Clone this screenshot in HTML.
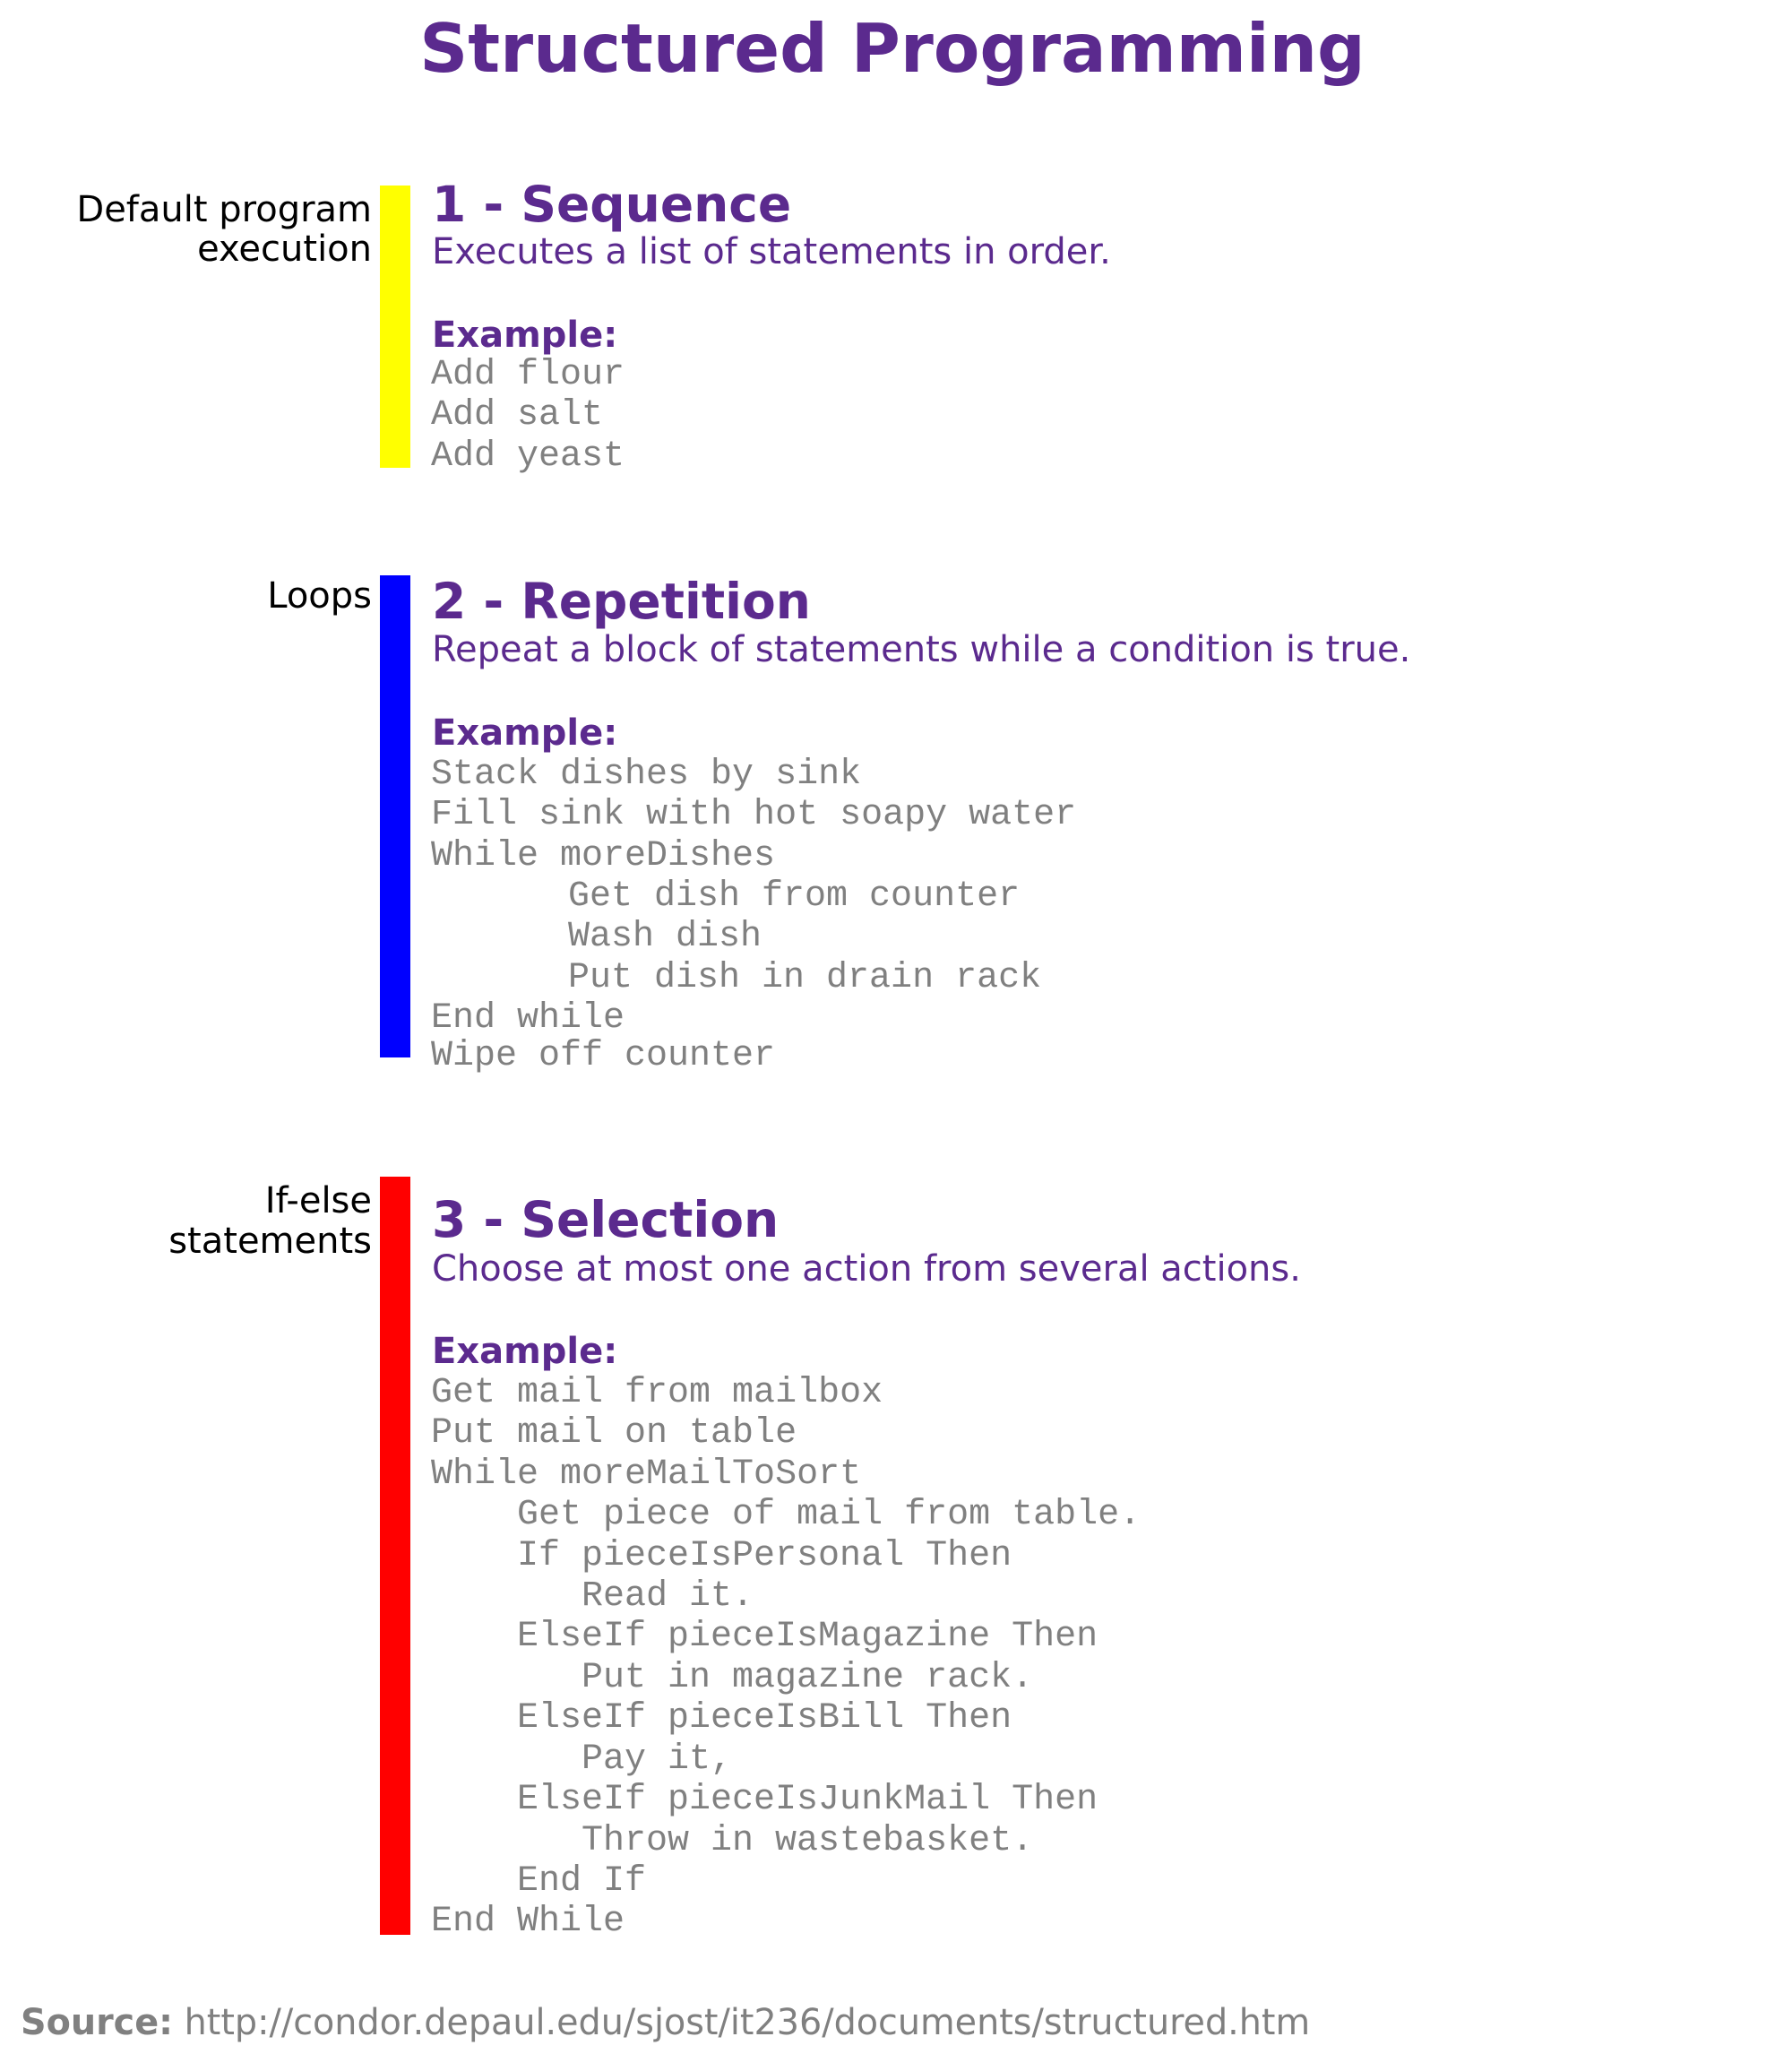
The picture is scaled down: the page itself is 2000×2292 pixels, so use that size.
<!DOCTYPE html>
<html><head><meta charset="utf-8"><style>
html,body{margin:0;padding:0;background:#fff}
svg{display:block}
.lbl{font-family:"DejaVu Sans","Liberation Sans",sans-serif;font-size:40px;fill:#000;text-anchor:end}
.h{font-family:"DejaVu Sans","Liberation Sans",sans-serif;font-weight:bold;font-size:55px;fill:#5b2a8e}
.d{font-family:"DejaVu Sans","Liberation Sans",sans-serif;font-size:40px;fill:#5b2a8e}
.ex{font-family:"DejaVu Sans","Liberation Sans",sans-serif;font-weight:bold;font-size:40px;fill:#5b2a8e}
.c{font-family:"Liberation Mono",monospace;font-size:40px;fill:#808080;white-space:pre}
</style></head><body>
<svg width="2000" height="2292" viewBox="0 0 2000 2292" xmlns="http://www.w3.org/2000/svg">
<text x="996" y="80" text-anchor="middle" font-family="DejaVu Sans, Liberation Sans, sans-serif" font-weight="bold" font-size="75" fill="#5b2a8e">Structured Programming</text>

<g>
<rect x="424" y="207" width="34" height="315" fill="#ffff00"/>
<text class="lbl" x="415" y="247"><tspan x="415">Default program</tspan><tspan x="415" y="291">execution</tspan></text>
<text class="h" x="482" y="247">1 - Sequence</text>
<text class="d" x="482" y="294">Executes a list of statements in order.</text>
<text class="ex" x="482" y="387">Example:</text>
<text class="c" x="481" y="428"><tspan x="481" y="428">Add flour</tspan><tspan x="481" y="473">Add salt</tspan><tspan x="481" y="519">Add yeast</tspan></text>
</g>

<g>
<rect x="424" y="642" width="34" height="538" fill="#0000ff"/>
<text class="lbl" x="415" y="678">Loops</text>
<text class="h" x="482" y="690">2 - Repetition</text>
<text class="d" x="482" y="738">Repeat a block of statements while a condition is true.</text>
<text class="ex" x="482" y="831">Example:</text>
<text class="c">
<tspan x="481" y="874">Stack dishes by sink</tspan>
<tspan x="481" y="919">Fill sink with hot soapy water</tspan>
<tspan x="481" y="965">While moreDishes</tspan>
<tspan x="634" y="1010">Get dish from counter</tspan>
<tspan x="634" y="1055">Wash dish</tspan>
<tspan x="634" y="1101">Put dish in drain rack</tspan>
<tspan x="481" y="1146">End while</tspan>
<tspan x="481" y="1188">Wipe off counter</tspan>
</text>
</g>

<g>
<rect x="424" y="1313" width="34" height="846" fill="#ff0000"/>
<text class="lbl" x="415" y="1353"><tspan x="415">If-else</tspan><tspan x="415" y="1398">statements</tspan></text>
<text class="h" x="482" y="1380">3 - Selection</text>
<text class="d" x="482" y="1429">Choose at most one action from several actions.</text>
<text class="ex" x="482" y="1521">Example:</text>
<text class="c">
<tspan x="481" y="1564">Get mail from mailbox</tspan>
<tspan x="481" y="1609">Put mail on table</tspan>
<tspan x="481" y="1655">While moreMailToSort</tspan>
<tspan x="577" y="1700">Get piece of mail from table.</tspan>
<tspan x="577" y="1746">If pieceIsPersonal Then</tspan>
<tspan x="649" y="1791">Read it.</tspan>
<tspan x="577" y="1836">ElseIf pieceIsMagazine Then</tspan>
<tspan x="649" y="1882">Put in magazine rack.</tspan>
<tspan x="577" y="1927">ElseIf pieceIsBill Then</tspan>
<tspan x="649" y="1973">Pay it,</tspan>
<tspan x="577" y="2018">ElseIf pieceIsJunkMail Then</tspan>
<tspan x="649" y="2064">Throw in wastebasket.</tspan>
<tspan x="577" y="2109">End If</tspan>
<tspan x="481" y="2154">End While</tspan>
</text>
</g>

<text x="23" y="2270" font-family="DejaVu Sans, Liberation Sans, sans-serif" font-size="39.7" fill="#808080"><tspan font-weight="bold">Source:</tspan> http://condor.depaul.edu/sjost/it236/documents/structured.htm</text>
</svg>
</body></html>
